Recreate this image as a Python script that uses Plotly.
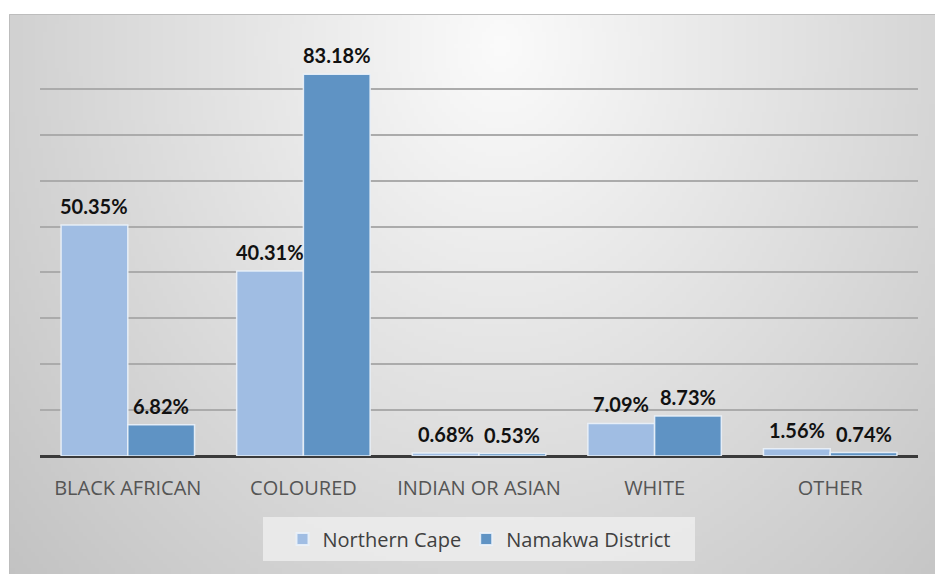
import base64, struct, zlib
import numpy as np
import plotly.graph_objects as go

categories = ["BLACK AFRICAN", "COLOURED", "INDIAN OR ASIAN", "WHITE", "OTHER"]
northern_cape = [50.35, 40.31, 0.68, 7.09, 1.56]
namakwa = [6.82, 83.18, 0.53, 8.73, 0.74]
series_names = ["Northern Cape", "Namakwa District"]
series_colors = ["#a0bde3", "#5f93c4"]

# ---- background gradient image (radial, light centre, grey edges) ----
def make_png(arr):
    h, w = arr.shape
    raw = b"".join(b"\x00" + bytes(arr[r].tolist()) for r in range(h))
    def chunk(t, d):
        c = struct.pack(">I", len(d)) + t + d
        return c + struct.pack(">I", zlib.crc32(t + d) & 0xffffffff)
    ihdr = struct.pack(">IIBBBBB", w, h, 8, 0, 0, 0, 0)
    return b"\x89PNG\r\n\x1a\n" + chunk(b"IHDR", ihdr) + chunk(b"IDAT", zlib.compress(raw, 9)) + chunk(b"IEND", b"")

W, H = 926, 560
gw, gh = 232, 140
yy, xx = np.mgrid[0:gh, 0:gw]
px = xx * W / gw
py = yy * H / gh
d = np.sqrt(((px - 490) / 470) ** 2 + ((py - 30) / 560) ** 2)
grey = np.clip(251 - 40 * d, 190, 252).astype(np.uint8)
bg_uri = "data:image/png;base64," + base64.b64encode(make_png(grey)).decode()

# plot area in pixels
L, R, T, B = 40, 918, 43, 456
pw, ph = R - L, B - T
def px2x(x):
    return (x - L) / pw
def px2y(y):
    return (B - y) / ph

fig = go.Figure()
for name, vals, col in zip(series_names, [northern_cape, namakwa], series_colors):
    fig.add_trace(go.Bar(
        name=name, x=categories, y=vals,
        marker=dict(color=col, line=dict(color="rgba(235,242,250,0.9)", width=1.5)),
        hoverinfo="x+y",
    ))

annotations = []
for vals, shift in zip([northern_cape, namakwa], [-33.4, 33.4]):
    for c, v in zip(categories, vals):
        annotations.append(dict(
            x=c, y=v, xref="x", yref="y", text=f"{v:.2f}%", showarrow=False,
            xshift=shift, yshift=5, yanchor="bottom",
            font=dict(family="Lato", size=20, color="#111111", weight="bold"),
        ))

shapes = [
    # legend box
    dict(type="rect", xref="paper", yref="paper",
         x0=px2x(263), x1=px2x(695), y0=px2y(561), y1=px2y(517),
         fillcolor="rgba(240,240,240,0.75)", line=dict(width=0), layer="below"),
    # frame border
    dict(type="rect", xref="paper", yref="paper",
         x0=px2x(9.5), x1=px2x(936), y0=px2y(575), y1=px2y(14.5),
         fillcolor="rgba(0,0,0,0)", line=dict(color="#bdbdbd", width=1), layer="below"),
]

fig.update_layout(
    width=935, height=574,
    margin=dict(l=L, r=935 - R, t=T, b=574 - B),
    paper_bgcolor="white", plot_bgcolor="rgba(0,0,0,0)",
    barmode="group", bargap=0.24, bargroupgap=0,
    showlegend=True,
    legend=dict(orientation="h", x=0.5, xanchor="center", y=px2y(539), yanchor="middle",
                bgcolor="rgba(0,0,0,0)", font=dict(family="Open Sans", size=20, color="#404040"),
                itemsizing="constant", traceorder="normal", itemwidth=30),
    images=[dict(source=bg_uri, xref="paper", yref="paper",
                 x=px2x(9), y=px2y(14), sizex=(935 - 9) / pw, sizey=(574 - 14) / ph,
                 xanchor="left", yanchor="top", sizing="stretch", layer="below")],
    shapes=shapes,
    annotations=annotations,
    xaxis=dict(showgrid=False, ticks="", showline=False, zeroline=False,
               tickfont=dict(family="Open Sans", size=20, color="#555555"),
               ticklabelstandoff=18),
    yaxis=dict(range=[0, 90], dtick=10, showticklabels=False, ticks="",
               showgrid=True, gridcolor="#ababab", gridwidth=1.5,
               zeroline=True, zerolinecolor="#3a3a3a", zerolinewidth=3, showline=False),
)

fig.write_html("out.html")
